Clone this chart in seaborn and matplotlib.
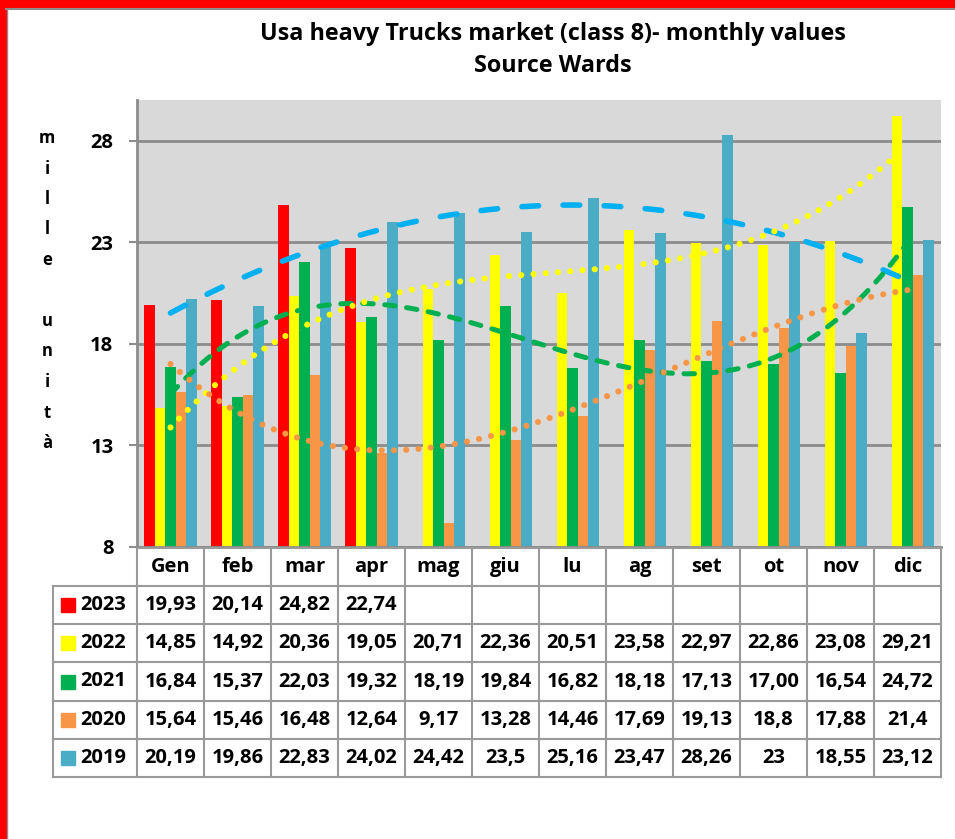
import numpy as np
import pandas as pd
import matplotlib
matplotlib.use('Agg')
import matplotlib.pyplot as plt
import seaborn as sns
from matplotlib.patches import Rectangle

# ── Data (as printed in the table, Italian decimal comma) ─────────────────────
months = ['Gen', 'feb', 'mar', 'apr', 'mag', 'giu', 'lu', 'ag', 'set', 'ot', 'nov', 'dic']
years = ['2023', '2022', '2021', '2020', '2019']

t2023 = ['19,93', '20,14', '24,82', '22,74', '', '', '', '', '', '', '', '']
t2022 = ['14,85', '14,92', '20,36', '19,05', '20,71', '22,36', '20,51', '23,58', '22,97', '22,86', '23,08', '29,21']
t2021 = ['16,84', '15,37', '22,03', '19,32', '18,19', '19,84', '16,82', '18,18', '17,13', '17,00', '16,54', '24,72']
t2020 = ['15,64', '15,46', '16,48', '12,64', '9,17', '13,28', '14,46', '17,69', '19,13', '18,8', '17,88', '21,4']
t2019 = ['20,19', '19,86', '22,83', '24,02', '24,42', '23,5', '25,16', '23,47', '28,26', '23', '18,55', '23,12']

table_text = dict(zip(years, [t2023, t2022, t2021, t2020, t2019]))
colors = dict(zip(years, ['#FF0000', '#FFFF00', '#00B050', '#F79646', '#4BACC6']))

# polynomial trendlines (series -> order, colour, dash pattern in lw units, width pt)
trends = {
    '2019': (2, '#00B0F0', (3.0, 4.4), 4.0),
    '2021': (3, '#00B050', (2.1, 2.3), 3.6),
    '2022': (3, '#FFFF00', (0.01, 2.0), 4.4),
    '2020': (3, '#F79646', (0.01, 2.0), 4.4),
}


def to_num(s):
    return float(s.replace(',', '.')) if s else np.nan


rows = []
for y in years:
    for m, s in zip(months, table_text[y]):
        rows.append({'mese': m, 'anno': y, 'valore': to_num(s)})
df = pd.DataFrame(rows)

# ── Figure layout (pixels) ────────────────────────────────────────────────────
W, H = 955, 839
fig = plt.figure(figsize=(W / 100, H / 100), dpi=100)
plt.rcParams['font.family'] = ['Open Sans', 'DejaVu Sans']
FS = 14.5


def px(x0, y0, x1, y1):
    return [x0 / W, 1 - y1 / H, (x1 - x0) / W, (y1 - y0) / H]


AX_L, AX_R, AX_T, AX_B = 137, 941, 100, 547
ax = fig.add_axes(px(AX_L, AX_T, AX_R, AX_B))
ax.set_facecolor('#D9D9D9')

sns.barplot(data=df, x='mese', y='valore', hue='anno', order=months,
            hue_order=years, palette=colors, width=0.78, errorbar=None,
            linewidth=0, saturation=1, legend=False, ax=ax, zorder=2)

# trendlines
xs = np.linspace(0, len(months) - 1, 300)
for y, (deg, col, dash, lw) in trends.items():
    vals = np.array([to_num(s) for s in table_text[y]])
    coef = np.polyfit(np.arange(len(months)), vals, deg)
    ax.plot(xs, np.polyval(coef, xs), color=col, lw=lw, dashes=dash,
            dash_capstyle='round', zorder=3)

ax.set_xlim(-0.5, len(months) - 0.5)
ax.set_ylim(8, 30)
ax.set_yticks([8, 13, 18, 23, 28])
ax.set_xticks(np.arange(-0.5, len(months)))
ax.set_xticklabels([])
ax.set_xlabel('')
ax.set_ylabel('')
ax.grid(axis='y', color='#8C8C8C', lw=2, zorder=1)
ax.set_axisbelow(True)
for side in ['top', 'right']:
    ax.spines[side].set_visible(False)
for side in ['left', 'bottom']:
    ax.spines[side].set_color('#8C8C8C')
    ax.spines[side].set_linewidth(2)
ax.tick_params(axis='y', length=6, width=1.5, color='#8C8C8C', pad=11,
               labelsize=FS)
ax.tick_params(axis='x', length=3, width=1.2, color='#8C8C8C')
for lab in ax.get_yticklabels():
    lab.set_fontweight('bold')

# ── Overlay: title, axis label, data table, frame ────────────────────────────
ov = fig.add_axes([0, 0, 1, 1], zorder=5)
ov.set_xlim(0, W)
ov.set_ylim(H, 0)
ov.axis('off')

ov.text(553, 34, 'Usa heavy Trucks market (class 8)- monthly values',
        ha='center', va='center', fontsize=16.8, fontweight='bold')
ov.text(553, 66, 'Source Wards', ha='center', va='center', fontsize=16.8,
        fontweight='bold')

yy = 138
for ch in 'mille unità':
    if ch != ' ':
        ov.text(47, yy, ch, ha='center', va='center', fontsize=12,
                fontweight='bold')
    yy += 30.5

# data table
grid_c = '#9A9A9A'
cw = (AX_R - AX_L) / len(months)
row_h = 38.2
top = AX_B + 1
hdr_b = 586
tab_l = 53
n_rows = len(years)
tab_b = hdr_b + n_rows * row_h

ov.plot([AX_L, AX_R], [top, top], color=grid_c, lw=1.5)
for r in range(n_rows + 1):
    yl = hdr_b + r * row_h
    ov.plot([tab_l, AX_R], [yl, yl], color=grid_c, lw=1.5)
ov.plot([tab_l, tab_l], [hdr_b, tab_b], color=grid_c, lw=1.5)
for i in range(len(months) + 1):
    xl = AX_L + i * cw
    ov.plot([xl, xl], [top, tab_b], color=grid_c, lw=1.5)

for i, m in enumerate(months):
    ov.text(AX_L + (i + 0.5) * cw, (top + hdr_b) / 2, m, ha='center',
            va='center', fontsize=FS, fontweight='bold')

for r, y in enumerate(years):
    yc = hdr_b + (r + 0.5) * row_h
    ov.add_patch(Rectangle((61, yc - 7), 14, 14, color=colors[y]))
    ov.text(80, yc, y, ha='left', va='center', fontsize=FS, fontweight='bold')
    for i, s in enumerate(table_text[y]):
        ov.text(AX_L + (i + 0.5) * cw, yc, s, ha='center', va='center',
                fontsize=FS, fontweight='bold')

# red frame of the screenshot
ov.add_patch(Rectangle((0, 0), W, 8, color='#FF0000', clip_on=False))
ov.add_patch(Rectangle((0, 0), 6, H, color='#FF0000', clip_on=False))
ov.plot([6, W], [9, 9], color='#8C8C8C', lw=1.5)
ov.plot([7, 7], [9, H], color='#8C8C8C', lw=1)

fig.savefig('out.png', dpi=100)
